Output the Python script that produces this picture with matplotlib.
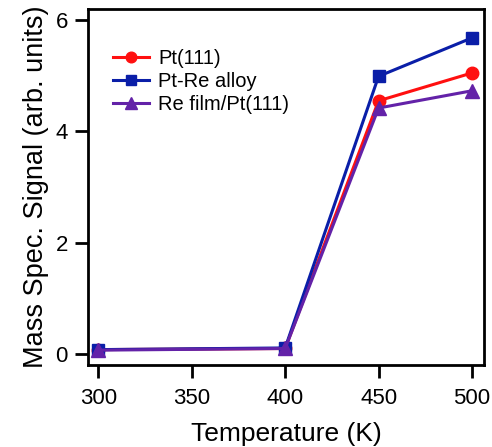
import matplotlib.pyplot as plt

temps = [300, 400, 450, 500]
pt111 = [0.08, 0.10, 4.55, 5.05]
pt_re_alloy = [0.08, 0.11, 4.99, 5.68]
re_film = [0.07, 0.10, 4.42, 4.73]

series_labels = ["Pt(111)", "Pt-Re alloy", "Re film/Pt(111)"]
x_ticks = [300, 350, 400, 450, 500]
y_ticks = [0, 2, 4, 6]

plt.rcParams["font.family"] = ["Liberation Sans", "DejaVu Sans"]

fig = plt.figure(figsize=(4.92, 4.47), dpi=100)
ax = fig.add_axes([0.179, 0.183, 0.805, 0.797])

ax.plot(temps, pt111, color="#ff1010", marker="o", markersize=9, lw=2.2,
        label=series_labels[0])
ax.plot(temps, pt_re_alloy, color="#0a1ea8", marker="s", markersize=8, lw=2.2,
        label=series_labels[1])
ax.plot(temps, re_film, color="#6322a8", marker="^", markersize=10, lw=2.2,
        label=series_labels[2])

ax.set_xlim(294.5, 506.5)
ax.set_ylim(-0.2, 6.2)
ax.set_xticks(x_ticks)
ax.set_yticks(y_ticks)

ax.tick_params(direction="out", length=9.5, width=2, labelsize=16, pad=5)
ax.tick_params(axis="x", pad=7)
for sp in ax.spines.values():
    sp.set_linewidth(2)

ax.set_xlabel("Temperature (K)", fontsize=19, labelpad=9)
ax.set_ylabel("Mass Spec. Signal (arb. units)", fontsize=19.5, labelpad=5)

ax.legend(loc="upper left", bbox_to_anchor=(0.063, 0.888), frameon=False,
          fontsize=14.5, handlelength=1.8, handletextpad=0.45,
          labelspacing=0.2, borderaxespad=0, borderpad=0, markerscale=0.85)

plt.savefig("out.png", dpi=100)
plt.close()
